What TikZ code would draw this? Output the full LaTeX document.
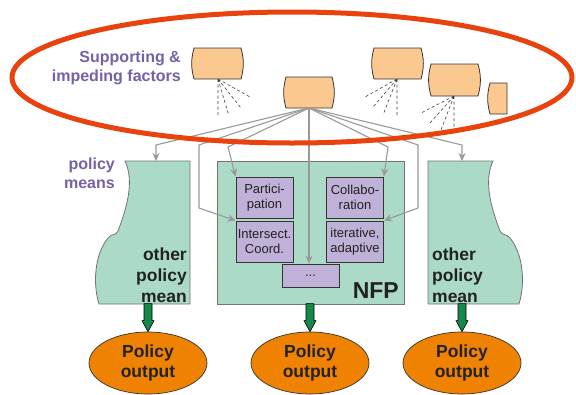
\documentclass[tikz,border=0pt]{standalone}
\usepackage{fontspec}
\setmainfont{Liberation Sans}
\usetikzlibrary{arrows.meta,shapes.geometric}

\definecolor{ringred}{HTML}{E8420E}
\definecolor{factorfill}{HTML}{FBC98F}
\definecolor{meansfill}{HTML}{ABDBC6}
\definecolor{toolfill}{HTML}{BFB1D7}
\definecolor{labelpurple}{HTML}{7661A7}
\definecolor{outputorange}{HTML}{EF8200}
\definecolor{flowgreen}{HTML}{15884A}
\definecolor{feedgrey}{HTML}{999999}
\definecolor{textdark}{HTML}{222222}

\tikzset{
  factor/.style={fill=factorfill,draw=black!80,line width=.8pt},
  means/.style={fill=meansfill,draw=black!55,line width=.8pt},
  tool/.style={rectangle,fill=toolfill,draw=black!80,line width=.8pt,minimum width=57pt,minimum height=41pt,
    inner sep=0pt,align=center,text=textdark,font=\fontsize{13}{15}\selectfont},
  feed/.style={draw=feedgrey,line width=1.1pt,-{Stealth[length=8pt,width=7pt]}},
  fan/.style={draw=black!75,line width=.6pt,dash pattern=on 3pt off 2.5pt},
  heading/.style={text=labelpurple,inner sep=0pt,font=\bfseries\fontsize{16}{19}\selectfont},
  meanlabel/.style={text=textdark,inner sep=0pt,font=\bfseries\fontsize{17.5}{21}\selectfont},
  output/.style={ellipse,fill=outputorange,draw=black!80,line width=.7pt,minimum width=118pt,minimum height=62pt,
    inner sep=0pt,align=center,text=textdark,font=\bfseries\fontsize{17.5}{20}\selectfont},
  flow/.style={fill=flowgreen,draw=black,line width=.6pt,line join=round}
}

\begin{document}
\begin{tikzpicture}[x=1pt,y=-1pt]
\useasboundingbox (0,0) rectangle (576,394);

\path[means] (125,161) -- (190,161) -- (190,304) -- (99,304) .. controls (93,285) and (94,255) .. (108,238)
  .. controls (112,233) and (116,236) .. (118,231) .. controls (128,205) and (134,180) .. (125,161) -- cycle;
\path[means] (493,161) -- (428,161) -- (428,304) -- (519,304) .. controls (525,285) and (524,255) .. (510,238)
  .. controls (506,233) and (502,236) .. (500,231) .. controls (490,205) and (484,180) .. (493,161) -- cycle;
\node[means,rectangle,minimum width=187pt,minimum height=143pt,inner sep=0pt] (nfp) at (310.5,232.5) {};
\coordinate (inL) at (156,161);
\coordinate (inR) at (462,161);

\node[heading,align=right,anchor=east] (meanshead) at (115,173) {policy\\means};
\node[meanlabel,align=right,anchor=east] (otherL) at (187,275) {other\\policy\\mean};
\node[meanlabel,align=left,anchor=west] (otherR) at (432,275) {other\\policy\\mean};
\node[text=textdark,inner sep=0pt,anchor=base east,font=\bfseries\fontsize{23}{23}\selectfont] (nfplabel) at (399,298) {NFP};

\draw[factor] (194,48) -- (241,48) to[bend left=15] (241,79) -- (194,79) to[bend left=15] (194,48) -- cycle;
\draw[factor] (286,77) -- (332,77) to[bend left=15] (332,108) -- (286,108) to[bend left=15] (286,77) -- cycle;
\draw[factor] (374,48) -- (421,48) to[bend left=15] (421,79) -- (374,79) to[bend left=15] (374,48) -- cycle;
\draw[factor] (431,64) -- (478,64) to[bend left=15] (478,96) -- (431,96) to[bend left=15] (431,64) -- cycle;
\draw[factor] (490,83) -- (507,83) -- (507,114) -- (490,114) to[bend left=15] (490,83) -- cycle;
\coordinate (f1) at (218,79);
\coordinate (f2) at (309,108);
\coordinate (f3) at (397,79);
\coordinate (f4) at (454,96);

\draw[fan] (f1) -- ++(0,38) (f1) -- ++(11,37) (f1) -- ++(23,29) (f1) -- ++(32,18);
\draw[fan] (f3) -- ++(0,38) (f3) -- ++(-14,36) (f3) -- ++(-24,28) (f3) -- ++(-32,18);
\draw[fan] (f4) -- ++(0,37) (f4) -- ++(-13,34) (f4) -- ++(-24,27) (f4) -- ++(-33,17);

\node[tool] (part) at (264.5,197.5) {Partici-\\pation};
\node[tool] (inter) at (264.5,241.5) {Intersect.\\Coord.};
\node[tool] (collab) at (355,197.5) {Collabo-\\ration};
\node[tool] (iter) at (355,241.5) {iterative,\\adaptive};
\node[tool,minimum height=23pt] (dots) at (310.5,275.5) {...};

\draw[feed] (f2) -- (156,145) -- (inL);
\draw[feed] (f2) -- (199,145) -- (199,208) -- (inter.north west);
\draw[feed] (f2) -- (228,147) -- (part.north west);
\draw[feed] (f2) -- (f2 |- dots.north);
\draw[feed] (f2) -- (388,147) -- (collab.north east);
\draw[feed] (f2) -- (418,145) -- (418,208) -- (iter.north east);
\draw[feed] (f2) -- (462,145) -- (inR);

\draw[ringred,line width=5pt] (292,77.5) ellipse [x radius=280, y radius=65.5];
\node[heading,align=right,anchor=east] (factorhead) at (181,68) {Supporting \&\\impeding factors};

\node[output] (outL) at (148,363) {Policy\\output};
\node[output] (outM) at (310,363) {Policy\\output};
\node[output] (outR) at (462,363) {Policy\\output};
\filldraw[flow] (outL.north) -- ++(-6,-11) -- ++(2,0) -- ++(0,-17) -- ++(8,0) -- ++(0,17) -- ++(2,0) -- cycle;
\filldraw[flow] (outM.north) -- ++(-6,-11) -- ++(2,0) -- ++(0,-17) -- ++(8,0) -- ++(0,17) -- ++(2,0) -- cycle;
\filldraw[flow] (outR.north) -- ++(-6,-11) -- ++(2,0) -- ++(0,-17) -- ++(8,0) -- ++(0,17) -- ++(2,0) -- cycle;
\end{tikzpicture}
\end{document}
